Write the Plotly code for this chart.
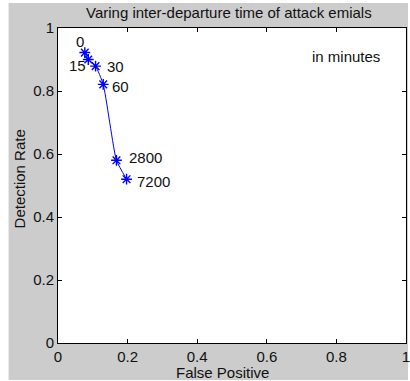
import plotly.graph_objects as go

# Data
false_positive = [0.077, 0.087, 0.108, 0.130, 0.168, 0.197]
detection_rate = [0.922, 0.900, 0.879, 0.821, 0.580, 0.520]
point_labels = ["0", "15", "30", "60", "2800", "7200"]
x_ticks = [0, 0.2, 0.4, 0.6, 0.8, 1]
y_ticks = [0, 0.2, 0.4, 0.6, 0.8, 1]

FONT = "Liberation Sans, Arial, sans-serif"
TXT = "#111111"
FS = 15

fig = go.Figure()
fig.add_trace(go.Scatter(
    x=false_positive, y=detection_rate, mode="lines+markers",
    line=dict(color="#0000ff", width=1, shape="spline", smoothing=0.5),
    marker=dict(symbol="asterisk", size=9, color="#0000ff",
                line=dict(color="#0000ff", width=1.4)),
    showlegend=False, hoverinfo="skip",
))

# label offsets (pixels) relative to points
offsets = [(-5, 11), (-11, -6), (20, 0), (17, -2), (29, 3), (27, -2)]
for xv, yv, lab, (dx, dy) in zip(false_positive, detection_rate, point_labels, offsets):
    fig.add_annotation(x=xv, y=yv, text=lab, showarrow=False,
                       xanchor="center", yanchor="middle",
                       xshift=dx, yshift=dy, font=dict(family=FONT, size=FS, color=TXT))

fig.add_annotation(x=0.828, y=0.91, text="in minutes", showarrow=False,
                   xanchor="center", yanchor="middle",
                   font=dict(family=FONT, size=FS, color=TXT))

# title and axis labels
fig.add_annotation(xref="paper", yref="paper", x=(231 - 58) / 352, y=(343 - 13) / 315,
                   xanchor="center", yanchor="middle",
                   text="Varing inter-departure time of attack emials", showarrow=False,
                   font=dict(family=FONT, size=FS, color=TXT))
fig.add_annotation(xref="paper", yref="paper", x=(224 - 58) / 352, y=(343 - 372) / 315,
                   xanchor="center", yanchor="middle",
                   text="False Positive", showarrow=False,
                   font=dict(family=FONT, size=FS, color=TXT))
fig.add_annotation(xref="paper", yref="paper", x=(19 - 58) / 352, y=(343 - 179) / 315,
                   xanchor="center", yanchor="middle",
                   text="Detection Rate", showarrow=False, textangle=-90,
                   font=dict(family=FONT, size=FS, color=TXT))

# grey figure background and white axes box
fig.add_shape(type="rect", xref="paper", yref="paper", layer="below",
              x0=(8 - 58) / 352, x1=(412 - 58) / 352,
              y0=(343 - 380) / 315, y1=(343 - 3) / 315,
              fillcolor="#cccccc", line=dict(width=0))
fig.add_shape(type="rect", xref="paper", yref="paper", layer="below",
              x0=0, x1=1, y0=0, y1=1, fillcolor="#ffffff", line=dict(width=0))

axis_common = dict(range=[0, 1], showgrid=False, zeroline=False, showline=True,
                   linecolor="#000000", linewidth=1, mirror="ticks", ticks="inside",
                   ticklen=4, tickcolor="#000000", ticklabeloverflow="allow",
                   tickfont=dict(family=FONT, size=FS, color=TXT))
fig.update_xaxes(tickvals=x_ticks, ticktext=[f"{v:g}" for v in x_ticks], **axis_common)
fig.update_yaxes(tickvals=y_ticks, ticktext=[f"{v:g}" for v in y_ticks], **axis_common)

fig.update_layout(width=410, height=381, margin=dict(l=58, r=0, t=28, b=38),
                  paper_bgcolor="#ffffff", plot_bgcolor="#ffffff")

fig.write_html("out.html", config={"displayModeBar": False})
